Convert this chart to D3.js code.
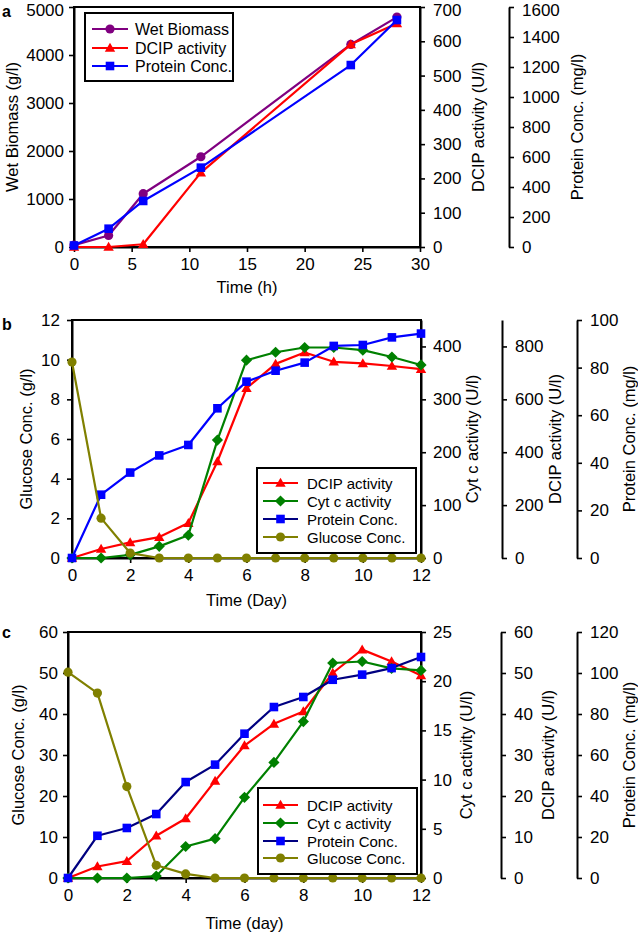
<!DOCTYPE html>
<html><head><meta charset="utf-8">
<script src="https://cdn.jsdelivr.net/npm/d3@7"></script>
<style>
html,body{margin:0;padding:0;background:#fff;}
svg{display:block;font-family:"Liberation Sans",Arial,sans-serif;}
</style></head>
<body>
<svg id="chart" width="638" height="934"></svg>
<script>
// ---------- DATA ----------
// Panel a
const timeA = [0, 3, 6, 11, 24, 28];
const wetBiomassA = [40, 240, 1110, 1880, 4220, 4790];
const dcipA = [0, 0, 8, 217, 591, 652];
const proteinA = [10, 122, 307, 529, 1213, 1513];
const xTicksA = [0, 5, 10, 15, 20, 25, 30];
const wetTicksA = [0, 1000, 2000, 3000, 4000, 5000];
const dcipTicksA = [0, 100, 200, 300, 400, 500, 600, 700];
const proteinTicksA = [0, 200, 400, 600, 800, 1000, 1200, 1400, 1600];

// Panel b
const timeB = [0, 1, 2, 3, 4, 5, 6, 7, 8, 9, 10, 11, 12];
const dcipB = [0, 34, 59, 79, 132, 365, 642, 734, 777, 742, 736, 726, 714];
const cytB = [0, 0, 6, 22, 43, 223, 374, 389, 398, 398, 393, 380, 365];
const proteinB = [0, 26.6, 35.9, 43.1, 47.5, 62.9, 74.1, 78.7, 82.1, 89.1, 89.5, 92.7, 94.3];
const glucoseB = [9.88, 2.01, 0.25, 0, 0, 0, 0, 0, 0, 0, 0, 0, 0];
const xTicksB = [0, 2, 4, 6, 8, 10, 12];
const glucoseTicksB = [0, 2, 4, 6, 8, 10, 12];
const cytTicksB = [0, 100, 200, 300, 400];
const dcipTicksB = [0, 200, 400, 600, 800];
const proteinTicksB = [0, 20, 40, 60, 80, 100];

// Panel c
const timeC = [0, 1, 2, 3, 4, 5, 6, 7, 8, 9, 10, 11, 12];
const dcipC = [0, 2.8, 4.1, 10.3, 14.5, 23.7, 32.3, 37.6, 40.6, 50.0, 55.7, 52.8, 49.4];
const cytC = [0, 0, 0, 0.2, 3.2, 4.0, 8.2, 11.75, 15.9, 21.85, 22.0, 21.3, 21.1];
const proteinC = [0, 20.6, 24.4, 31.2, 46.8, 55.3, 70.4, 83.4, 88.3, 96.7, 99.2, 102.4, 107.8];
const glucoseC = [50.2, 45.1, 22.3, 3.1, 1.0, 0, 0, 0, 0, 0, 0, 0, 0];
const xTicksC = [0, 2, 4, 6, 8, 10, 12];
const glucoseTicksC = [0, 10, 20, 30, 40, 50, 60];
const cytTicksC = [0, 5, 10, 15, 20, 25];
const dcipTicksC = [0, 10, 20, 30, 40, 50, 60];
const proteinTicksC = [0, 20, 40, 60, 80, 100, 120];

// ---------- DRAWING ----------
const svg = d3.select("#chart");
const TICK_FONT = 17;
const TITLE_FONT = 16.5;
const fmt = d3.format("d");

function markerPath(type) {
  if (type === "circle") return d3.symbol().type(d3.symbolCircle).size(Math.PI * 4.6 * 4.6)();
  if (type === "square") return "M-4.3,-4.3H4.3V4.3H-4.3Z";
  if (type === "triangle") return "M0,-5.2L5.2,3.8L-5.2,3.8Z";
  if (type === "diamond") return "M0,-5.6L5.6,0L0,5.6L-5.6,0Z";
}

function drawSeries(g, xs, ys, x, y, lineColor, markColor, type) {
  const pts = xs.map((t, i) => [t, ys[i]]);
  g.append("path")
    .attr("d", d3.line().x(d => x(d[0])).y(d => y(d[1]))(pts))
    .attr("fill", "none").attr("stroke", lineColor).attr("stroke-width", 2.2)
    .attr("stroke-linejoin", "round");
  g.selectAll(null).data(pts).enter().append("path")
    .attr("d", markerPath(type))
    .attr("transform", d => `translate(${x(d[0])},${y(d[1])})`)
    .attr("fill", markColor);
}

function styleAxis(sel, scale) {
  sel.selectAll("path.domain").attr("stroke", "#000").attr("stroke-width", 2);
  sel.selectAll(".tick line").attr("stroke", "#000").attr("stroke-width", 1.6);
  sel.selectAll(".tick text").attr("font-size", TICK_FONT).attr("fill", "#000")
    .attr("font-family", '"Liberation Sans",Arial,sans-serif');
  if (scale) {
    // keep labels that sit right at the page top fully inside the page
    sel.selectAll(".tick").filter(d => scale(d) < 12).select("text").attr("dy", "0.5em");
  }
}

function vLabel(text, cx, cy) {
  svg.append("text").attr("transform", `translate(${cx},${cy}) rotate(-90)`)
    .attr("text-anchor", "middle").attr("dominant-baseline", "central")
    .attr("font-size", TITLE_FONT).text(text);
}

function drawLegend(box, rows, lineX0, lineX1, textX, fontSize, items) {
  const g = svg.append("g");
  g.append("rect").attr("x", box[0]).attr("y", box[1]).attr("width", box[2] - box[0])
    .attr("height", box[3] - box[1]).attr("fill", "#fff").attr("stroke", "#000").attr("stroke-width", 2);
  items.forEach((it, i) => {
    const yy = rows[i];
    g.append("line").attr("x1", lineX0).attr("x2", lineX1).attr("y1", yy).attr("y2", yy)
      .attr("stroke", it.line).attr("stroke-width", 2.2);
    g.append("path").attr("d", markerPath(it.type))
      .attr("transform", `translate(${(lineX0 + lineX1) / 2},${yy})`).attr("fill", it.mark);
    g.append("text").attr("x", textX).attr("y", yy).attr("dominant-baseline", "central")
      .attr("font-size", fontSize).text(it.name);
  });
}

function panel(cfg) {
  const x = d3.scaleLinear().domain(cfg.xDomain).range([cfg.left, cfg.right]);
  const yL = d3.scaleLinear().domain(cfg.leftDomain).range([cfg.bottom, cfg.top]);
  // x axis
  const gx = svg.append("g").attr("transform", `translate(0,${cfg.bottom})`)
    .call(d3.axisBottom(x).tickValues(cfg.xTicks).tickFormat(fmt).tickSize(5).tickSizeOuter(0).tickPadding(6));
  styleAxis(gx);
  // left axis
  const gl = svg.append("g").attr("transform", `translate(${cfg.left},0)`)
    .call(d3.axisLeft(yL).tickValues(cfg.leftTicks).tickFormat(fmt).tickSize(5).tickSizeOuter(0).tickPadding(cfg.leftPad));
  styleAxis(gl, yL);
  // right axes
  const rScales = cfg.rights.map(r => {
    const s = d3.scaleLinear().domain(r.domain).range([cfg.bottom, cfg.top]);
    const ga = svg.append("g").attr("transform", `translate(${r.x},0)`)
      .call(d3.axisRight(s).tickValues(r.ticks).tickFormat(fmt).tickSize(5).tickSizeOuter(0).tickPadding(r.pad));
    styleAxis(ga, s);
    vLabel(r.label, r.labelX, (cfg.top + cfg.bottom) / 2);
    return s;
  });
  // frame
  svg.append("rect").attr("x", cfg.left).attr("y", cfg.top)
    .attr("width", cfg.right - cfg.left).attr("height", cfg.bottom - cfg.top)
    .attr("fill", "none").attr("stroke", "#000").attr("stroke-width", 2);
  // labels
  vLabel(cfg.leftLabel, cfg.leftLabelX, (cfg.top + cfg.bottom) / 2);
  svg.append("text").attr("x", (cfg.left + cfg.right) / 2).attr("y", cfg.xLabelY)
    .attr("text-anchor", "middle").attr("font-size", TITLE_FONT).text(cfg.xLabel);
  svg.append("text").attr("x", 2).attr("y", cfg.letterY).attr("font-weight", "bold")
    .attr("font-size", 16).text(cfg.letter);
  // series
  const g = svg.append("g");
  cfg.series.forEach(s => {
    const yScale = s.axis === "left" ? yL : rScales[s.axis];
    drawSeries(g, cfg.time, s.values, x, yScale, s.line, s.mark, s.type);
  });
}

// Panel a
panel({
  left: 74, right: 420, top: 7, bottom: 247,
  xDomain: [0, 30], xTicks: xTicksA, time: timeA,
  leftDomain: [0, 5000], leftTicks: wetTicksA, leftPad: 5,
  leftLabel: "Wet Biomass (g/l)", leftLabelX: 12,
  xLabel: "Time (h)", xLabelY: 293, letter: "a", letterY: 17,
  rights: [
    {x: 420, domain: [0, 700], ticks: dcipTicksA, pad: 8, label: "DCIP activity (U/l)", labelX: 478},
    {x: 509, domain: [0, 1600], ticks: proteinTicksA, pad: 8, label: "Protein Conc. (mg/l)", labelX: 577}
  ],
  series: [
    {values: wetBiomassA, axis: "left", line: "#800080", mark: "#800080", type: "circle"},
    {values: dcipA, axis: 0, line: "#ff0000", mark: "#ff0000", type: "triangle"},
    {values: proteinA, axis: 1, line: "#0000ff", mark: "#0000ff", type: "square"}
  ]
});
drawLegend([85, 13, 233, 81], [29, 48, 66], 92, 128, 135, 16, [
  {name: "Wet Biomass", line: "#800080", mark: "#800080", type: "circle"},
  {name: "DCIP activity", line: "#ff0000", mark: "#ff0000", type: "triangle"},
  {name: "Protein Conc.", line: "#0000ff", mark: "#0000ff", type: "square"}
]);

// Panel b
panel({
  left: 72, right: 421, top: 320, bottom: 558,
  xDomain: [0, 12], xTicks: xTicksB, time: timeB,
  leftDomain: [0, 12], leftTicks: glucoseTicksB, leftPad: 7,
  leftLabel: "Glucose Conc. (g/l)", leftLabelX: 26,
  xLabel: "Time (Day)", xLabelY: 606, letter: "b", letterY: 330,
  rights: [
    {x: 421, domain: [0, 450], ticks: cytTicksB, pad: 7, label: "Cyt c activity (U/l)", labelX: 472},
    {x: 502, domain: [0, 900], ticks: dcipTicksB, pad: 8, label: "DCIP activity (U/l)", labelX: 555},
    {x: 577, domain: [0, 100], ticks: proteinTicksB, pad: 8, label: "Protein Conc. (mg/l)", labelX: 629}
  ],
  series: [
    {values: dcipB, axis: 1, line: "#ff0000", mark: "#ff0000", type: "triangle"},
    {values: cytB, axis: 0, line: "#008000", mark: "#008000", type: "diamond"},
    {values: proteinB, axis: 2, line: "#0000ff", mark: "#0000ff", type: "square"},
    {values: glucoseB, axis: "left", line: "#808000", mark: "#808000", type: "circle"}
  ]
});
drawLegend([257, 468, 416, 553], [483, 501, 519, 537], 263, 298, 307, 15, [
  {name: "DCIP activity", line: "#ff0000", mark: "#ff0000", type: "triangle"},
  {name: "Cyt c activity", line: "#008000", mark: "#008000", type: "diamond"},
  {name: "Protein Conc.", line: "#000080", mark: "#0000ff", type: "square"},
  {name: "Glucose Conc.", line: "#808000", mark: "#808000", type: "circle"}
]);

// Panel c
panel({
  left: 68, right: 421, top: 632, bottom: 878,
  xDomain: [0, 12], xTicks: xTicksC, time: timeC,
  leftDomain: [0, 60], leftTicks: glucoseTicksC, leftPad: 5,
  leftLabel: "Glucose Conc. (g/l)", leftLabelX: 18,
  xLabel: "Time (day)", xLabelY: 929, letter: "c", letterY: 638,
  rights: [
    {x: 421, domain: [0, 25], ticks: cytTicksC, pad: 7, label: "Cyt c activity (U/l)", labelX: 466},
    {x: 501, domain: [0, 60], ticks: dcipTicksC, pad: 8, label: "DCIP activity (U/l)", labelX: 548},
    {x: 577, domain: [0, 120], ticks: proteinTicksC, pad: 8, label: "Protein Conc. (mg/l)", labelX: 629}
  ],
  series: [
    {values: dcipC, axis: 1, line: "#ff0000", mark: "#ff0000", type: "triangle"},
    {values: cytC, axis: 0, line: "#008000", mark: "#008000", type: "diamond"},
    {values: proteinC, axis: 2, line: "#000080", mark: "#0000ff", type: "square"},
    {values: glucoseC, axis: "left", line: "#808000", mark: "#808000", type: "circle"}
  ]
});
drawLegend([258, 788, 417, 874], [805, 823, 841, 858], 263, 298, 307, 15, [
  {name: "DCIP activity", line: "#ff0000", mark: "#ff0000", type: "triangle"},
  {name: "Cyt c activity", line: "#008000", mark: "#008000", type: "diamond"},
  {name: "Protein Conc.", line: "#000080", mark: "#0000ff", type: "square"},
  {name: "Glucose Conc.", line: "#808000", mark: "#808000", type: "circle"}
]);
</script>
</body></html>
